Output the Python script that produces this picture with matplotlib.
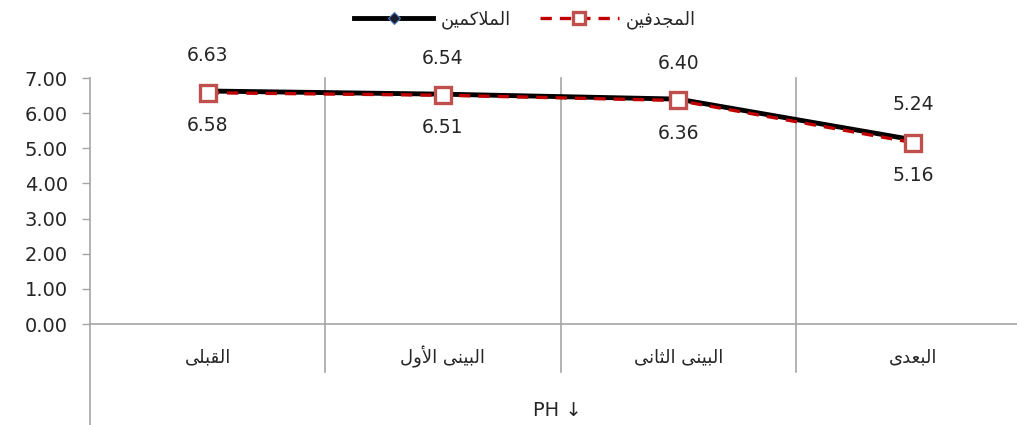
import matplotlib
matplotlib.use("Agg")
import matplotlib.pyplot as plt
from matplotlib.lines import Line2D
import matplotlib.transforms as mtransforms

# ---- data ----
categories = ["القبلى", "البينى الأول", "البينى الثانى", "البعدى"]
boxers = [6.63, 6.54, 6.40, 5.24]
rowers = [6.58, 6.51, 6.36, 5.16]
series_names = ["الملاكمين", "المجدفين"]
group_label = "PH ↓"
y_ticks = [0, 1, 2, 3, 4, 5, 6, 7]

# ---- minimal Arabic shaping (contextual forms + visual order) ----
# char: (isolated, final, initial, medial); None = letter does not join forward
FORMS = {
    "ا": ("\uFE8D", "\uFE8E", None, None),
    "أ": ("\uFE83", "\uFE84", None, None),
    "ب": ("\uFE8F", "\uFE90", "\uFE91", "\uFE92"),
    "ث": ("\uFE99", "\uFE9A", "\uFE9B", "\uFE9C"),
    "ج": ("\uFE9D", "\uFE9E", "\uFE9F", "\uFEA0"),
    "د": ("\uFEA9", "\uFEAA", None, None),
    "ع": ("\uFEC9", "\uFECA", "\uFECB", "\uFECC"),
    "ف": ("\uFED1", "\uFED2", "\uFED3", "\uFED4"),
    "ق": ("\uFED5", "\uFED6", "\uFED7", "\uFED8"),
    "ك": ("\uFED9", "\uFEDA", "\uFEDB", "\uFEDC"),
    "ل": ("\uFEDD", "\uFEDE", "\uFEDF", "\uFEE0"),
    "م": ("\uFEE1", "\uFEE2", "\uFEE3", "\uFEE4"),
    "ن": ("\uFEE5", "\uFEE6", "\uFEE7", "\uFEE8"),
    "و": ("\uFEED", "\uFEEE", None, None),
    "ى": ("\uFEEF", "\uFEF0", None, None),
    "ي": ("\uFEF1", "\uFEF2", "\uFEF3", "\uFEF4"),
    "لا": ("\uFEFB", "\uFEFC", None, None),
    "لأ": ("\uFEF7", "\uFEF8", None, None),
}


def shape(text):
    tokens = []
    i = 0
    while i < len(text):
        if text[i] == "ل" and i + 1 < len(text) and text[i + 1] in "اأ":
            tokens.append(text[i:i + 2])
            i += 2
        else:
            tokens.append(text[i])
            i += 1
    out = []
    for k, t in enumerate(tokens):
        if t not in FORMS:
            out.append(t)
            continue
        iso, fin, ini, med = FORMS[t]
        prev = tokens[k - 1] if k > 0 else None
        nxt = tokens[k + 1] if k + 1 < len(tokens) else None
        jp = prev in FORMS and FORMS[prev][2] is not None
        jn = nxt in FORMS and ini is not None
        if jp and jn:
            out.append(med)
        elif jp:
            out.append(fin)
        elif jn:
            out.append(ini)
        else:
            out.append(iso)
    return "".join(reversed(out))


# ---- figure ----
plt.rcParams["font.family"] = ["DejaVu Sans"]
fig = plt.figure(figsize=(10.17, 4.25), dpi=100)
ax = fig.add_axes([90 / 1017, 1 - 324 / 425, 941 / 1017, 246 / 425])

x = list(range(len(categories)))
grid_c = "#A6A6A6"
text_c = "#262626"
dash = (0, (3.4, 2.4))

ax.plot(x, boxers, color="black", lw=3.5, marker="D", ms=6.5,
        mfc="#1b1b2e", mec="#4F81BD", mew=0.8, zorder=3)
ax.plot(x, rowers, color="#C00000", lw=2.4, ls=dash,
        marker="s", ms=12, mfc="white", mec="#C0504D", mew=2.4, zorder=4)

for xi, v in zip(x, boxers):
    ax.annotate(f"{v:.2f}", (xi, v), xytext=(0, 25.5), textcoords="offset points",
                ha="center", va="center", fontsize=13.5, color=text_c)
for xi, v in zip(x, rowers):
    ax.annotate(f"{v:.2f}", (xi, v), xytext=(0, -23.5), textcoords="offset points",
                ha="center", va="center", fontsize=13.5, color=text_c)

ax.set_xlim(-0.5, len(categories) - 0.5)
ax.set_ylim(0, 7)
ax.set_yticks(y_ticks)
ax.set_yticklabels([f"{t:.2f}" for t in y_ticks], fontsize=14, color=text_c)
ax.set_xticks([])
ax.tick_params(axis="y", length=6, width=1, color=grid_c, pad=10)

for s in ("top", "right", "left"):
    ax.spines[s].set_visible(False)
ax.spines["bottom"].set_color(grid_c)
ax.spines["bottom"].set_linewidth(1.2)

# left axis line running down through the category area
ax.add_line(Line2D([0, 0], [1, -0.42], transform=ax.transAxes,
                   color=grid_c, lw=1.2, clip_on=False))

# category separators
blend = mtransforms.blended_transform_factory(ax.transData, ax.transAxes)
for b in range(1, len(categories)):
    ax.add_line(Line2D([b - 0.5, b - 0.5], [1, -0.195], transform=blend,
                       color=grid_c, lw=1.2, clip_on=False))

for xi, c in zip(x, categories):
    ax.text(xi, -0.135, shape(c), transform=blend, ha="center", va="center",
            fontsize=13, color=text_c)

ax.text(0.497, -0.35, group_label, transform=ax.transAxes,
        ha="center", va="center", fontsize=14, color=text_c)

handles = [
    Line2D([], [], color="black", lw=3.5, marker="D", ms=6.5,
           mfc="#1b1b2e", mec="#4F81BD", mew=0.8),
    Line2D([], [], color="#C00000", lw=2.4, ls=dash,
           marker="s", ms=9, mfc="white", mec="#C0504D", mew=2.4),
]
fig.legend(handles, [shape(n) for n in series_names], loc="center",
           bbox_to_anchor=(525 / 1017, 1 - 20 / 425), ncol=2, frameon=False,
           fontsize=13, handlelength=4.4, columnspacing=1.6, handletextpad=0.4,
           labelcolor=text_c)

fig.savefig("out.png", dpi=100)
